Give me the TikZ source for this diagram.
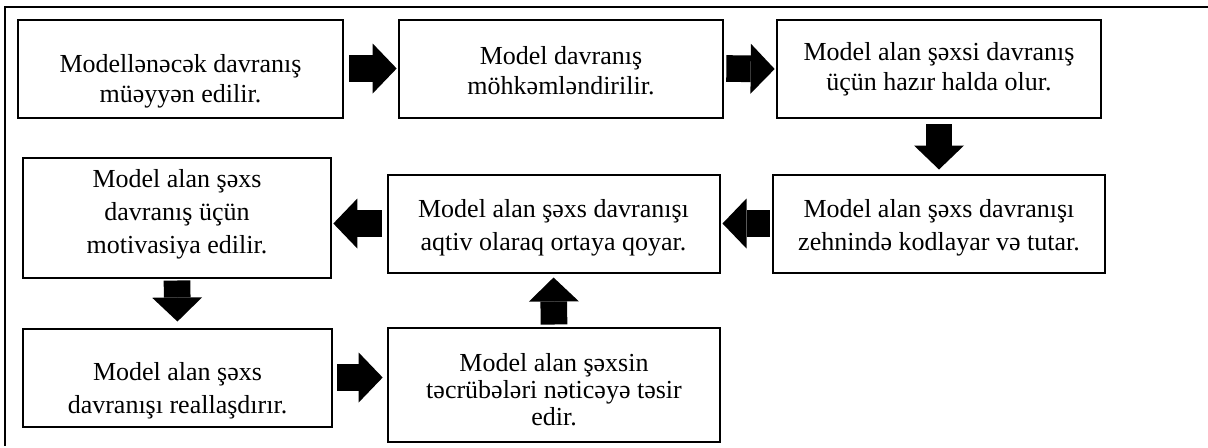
\documentclass[tikz,border=0pt]{standalone}
\usepackage{fontspec}
\setmainfont{Liberation Serif}
\usetikzlibrary{arrows.meta}

\begin{document}
\begin{tikzpicture}
        [x=0.75pt, y=-0.75pt,
        box/.style={rectangle, draw, line width=1.5pt, inner sep=0pt, minimum height=73.5pt},
        txt/.style={align=center, inner sep=0pt, font=\fontsize{19.5}{24.75}\selectfont},
        tight/.style={font=\fontsize{19.5}{22.5}\selectfont},
        fat/.style={line width=20pt, -{Triangle[length=18pt, width=37.5pt, line width=0pt]}},
        frame/.style={line width=1.5pt}]

        \useasboundingbox (0,0) rectangle (1208,447);

        % outer frame (cut at right and bottom)
        \draw[frame] (1208,7) -- (5,7) -- (5,446);

        % boxes, first row
        \node[box, minimum width=244pt] (s1) at (180.5,68.5) {};
        \node[box, minimum width=243.5pt] (s2) at (561,68.5) {};
        \node[box, minimum width=243.5pt] (s3) at (939,69) {};

        % second row
        \node[box, minimum width=231.5pt, minimum height=90pt] (s4) at (177,217.5) {};
        \node[box, minimum width=249pt] (s5) at (553.5,223.5) {};
        \node[box, minimum width=249.5pt] (s6) at (939,223.5) {};

        % third row
        \node[box, minimum width=232pt] (s7) at (177.5,377.5) {};
        \node[box, minimum width=249.5pt, minimum height=85.5pt] (s8) at (554,384.5) {};

        % texts
        \node[txt, tight, yshift=-9.4pt] (t1) at (s1) {Modellənəcək davranış\\müəyyən edilir.};
        \node[txt, tight, yshift=-1.9pt] (t2) at (s2) {Model davranış\\möhkəmləndirilir.};
        \node[txt, tight] (t3) at (s3) {Model alan şəxsi davranış\\üçün hazır halda olur.};
        \node[txt, yshift=2.6pt] (t4) at (s4) {Model alan şəxs\\davranış üçün\\motivasiya edilir.};
        \node[txt, yshift=-3pt] (t5) at (s5) {Model alan şəxs davranışı\\aqtiv olaraq ortaya qoyar.};
        \node[txt, yshift=-3pt] (t6) at (s6) {Model alan şəxs davranışı\\zehnində kodlayar və tutar.};
        \node[txt, yshift=-9.75pt] (t7) at (s7) {Model alan şəxs\\davranışı reallaşdırır.};
        \node[txt, font=\fontsize{19.5}{20.25}\selectfont, yshift=-4.1pt] (t8) at (s8) {Model alan şəxsin\\təcrübələri nəticəyə təsir\\edir.};

        % block arrows
        \draw[fat, shorten <=3.75pt, shorten >=0.75pt] (s1.east) -- (s2.west);
        \draw[fat, shorten <=1.5pt, shorten >=0.75pt] (s2.east) -- (s3.west);
        \draw[fat, shorten <=3.75pt, shorten >=3pt] (s3.south) -- (s6.north);
        \draw[fat, shorten <=1.5pt, shorten >=1.5pt] (s6.west) -- (s6.west -| s5.east);
        \draw[fat, shorten <=3.75pt, shorten >=0.75pt] (s5.west) -- (s5.west -| s4.east);
        \draw[fat, shorten <=1.5pt, shorten >=4.5pt] (s4.south) -- (s7.north);
        \draw[fat, shorten <=3pt, shorten >=3pt] (s7.east) -- (s7.east -| s8.west);
        \draw[fat, shorten <=1.5pt, shorten >=3pt] (s8.north) -- (s5.south);

\end{tikzpicture}
\end{document}
